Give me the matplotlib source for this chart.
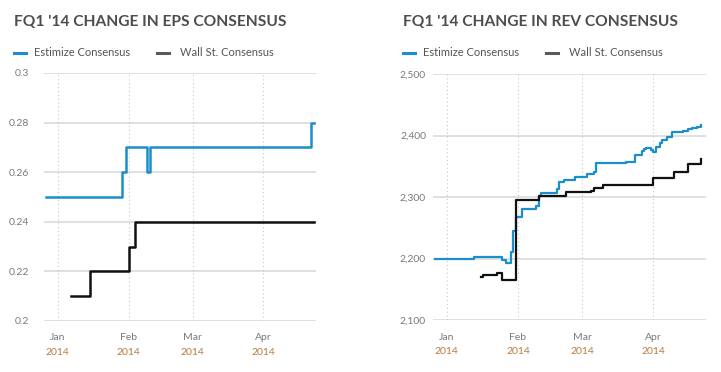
import matplotlib
matplotlib.use("Agg")
import matplotlib.pyplot as plt
import matplotlib.dates as mdates
import matplotlib.ticker as mticker
from matplotlib.lines import Line2D
import pandas as pd

# EPS consensus (step series)
eps_est_dates = ["2013-12-27 00:00", "2014-01-29 00:00", "2014-01-31 00:00", "2014-02-09 00:00",
                 "2014-02-10 14:00", "2014-04-22 00:00", "2014-04-23 00:00"]
eps_est_vals = [0.25, 0.26, 0.27, 0.26, 0.27, 0.28, 0.28]

eps_ws_dates = ["2014-01-07", "2014-01-15", "2014-02-01", "2014-02-04", "2014-04-23"]
eps_ws_vals = [0.21, 0.22, 0.23, 0.24, 0.24]

# Revenue consensus (step series)
rev_est_dates = ["2013-12-27", "2014-01-13", "2014-01-22", "2014-01-25", "2014-01-27",
                 "2014-01-29", "2014-01-30", "2014-01-31", "2014-02-03", "2014-02-09",
                 "2014-02-10", "2014-02-11", "2014-02-18", "2014-02-19", "2014-02-21",
                 "2014-02-26", "2014-03-03", "2014-03-06", "2014-03-07", "2014-03-20",
                 "2014-03-24", "2014-03-27", "2014-03-28", "2014-03-29", "2014-03-31",
                 "2014-04-01", "2014-04-02", "2014-04-04", "2014-04-05", "2014-04-07",
                 "2014-04-09", "2014-04-11", "2014-04-14", "2014-04-16", "2014-04-18",
                 "2014-04-20", "2014-04-22", "2014-04-22"]
rev_est_vals = [2200, 2202, 2203, 2198, 2193,
                2210, 2245, 2268, 2280, 2285,
                2302, 2307, 2313, 2325, 2328,
                2332, 2337, 2340, 2356, 2357,
                2369, 2374, 2378, 2380, 2377,
                2373, 2382, 2388, 2393, 2398,
                2406, 2405, 2408, 2411, 2412,
                2414, 2417, 2417]

rev_ws_dates = ["2014-01-16", "2014-01-17", "2014-01-23", "2014-01-25", "2014-01-31",
                "2014-02-10", "2014-02-22", "2014-03-05", "2014-03-06", "2014-03-10",
                "2014-04-01", "2014-04-10", "2014-04-16", "2014-04-22"]
rev_ws_vals = [2170, 2173, 2177, 2165, 2295,
               2302, 2308, 2310, 2314, 2320,
               2331, 2340, 2353, 2362]

month_ticks = ["2014-01-01", "2014-02-01", "2014-03-01", "2014-04-01"]

BLUE = "#1a8fcc"
BLACK = "#111111"
GRID = "#dddddd"
TICK = "#7a7a7a"
YEAR = "#b87a3e"
TITLE = "#4d4d4d"
FONT = "Lato"

plt.rcParams["font.family"] = [FONT, "DejaVu Sans"]

fig = plt.figure(figsize=(7.21, 3.72), dpi=100)
fig.patch.set_facecolor("white")

ax1 = fig.add_axes([44 / 721, 1 - 321 / 372, 272 / 721, 248 / 372])
ax2 = fig.add_axes([433 / 721, 1 - 320 / 372, 273 / 721, 246 / 372])


def style_axis(ax, ylim, yticks, fmt, ypad):
    ax.set_ylim(*ylim)
    ax.set_xlim(pd.Timestamp("2013-12-26"), pd.Timestamp("2014-04-24"))
    for s in ax.spines.values():
        s.set_visible(False)
    ax.set_yticks(yticks)
    ax.yaxis.set_major_formatter(fmt)
    ticks = pd.to_datetime(month_ticks)
    ax.set_xticks(ticks)
    ax.xaxis.set_major_formatter(mdates.DateFormatter("%b"))
    ax.tick_params(axis="both", length=0, labelsize=7.5, labelcolor=TICK)
    ax.tick_params(axis="y", pad=ypad)
    ax.tick_params(axis="x", pad=9)
    for y in yticks:
        ax.axhline(y, color=GRID, lw=1.3, zorder=0)
    for t in ticks:
        ax.axvline(t, color="#c8c8c8", lw=0.8, ls=(0, (1, 2.5)), zorder=0)
        ax.text(t, -0.108, t.strftime("%Y"), transform=ax.get_xaxis_transform(),
                ha="center", va="top", fontsize=7.5, color=YEAR)


style_axis(ax1, (0.2, 0.3), [0.2, 0.22, 0.24, 0.26, 0.28, 0.3],
           mticker.FuncFormatter(lambda v, p: "%g" % round(v, 2)), 11)
style_axis(ax2, (2100, 2500), [2100, 2200, 2300, 2400, 2500],
           mticker.FuncFormatter(lambda v, p: "{:,.0f}".format(v)), 5)

ax1.step(pd.to_datetime(eps_ws_dates), eps_ws_vals, where="post", color=BLACK, lw=1.8, zorder=3)
ax1.step(pd.to_datetime(eps_est_dates), eps_est_vals, where="post", color=BLUE, lw=1.8, zorder=3)
ax2.step(pd.to_datetime(rev_est_dates), rev_est_vals, where="post", color=BLUE, lw=1.6, zorder=2)
ax2.step(pd.to_datetime(rev_ws_dates), rev_ws_vals, where="post", color=BLACK, lw=1.6, zorder=3)

# titles and legends
for x0, title in [(14, "FQ1 '14 CHANGE IN EPS CONSENSUS"), (403, "FQ1 '14 CHANGE IN REV CONSENSUS")]:
    fig.text(x0 / 721, 1 - 22 / 372, title, fontsize=11.2, fontweight="bold",
             color=TITLE, va="center", ha="left")
    ly = 1 - 53 / 372
    fig.add_artist(Line2D([x0 / 721, (x0 + 12) / 721], [ly, ly], color=BLUE, lw=2.2,
                          transform=fig.transFigure))
    fig.text((x0 + 20) / 721, ly, "Estimize Consensus", fontsize=8, color="#555555", va="center")
    fig.add_artist(Line2D([(x0 + 143) / 721, (x0 + 155) / 721], [ly, ly], color="#5a5a5a", lw=2.2,
                          transform=fig.transFigure))
    fig.text((x0 + 166) / 721, ly, "Wall St. Consensus", fontsize=8, color="#555555", va="center")

fig.savefig("out.png", dpi=100, facecolor="white")
